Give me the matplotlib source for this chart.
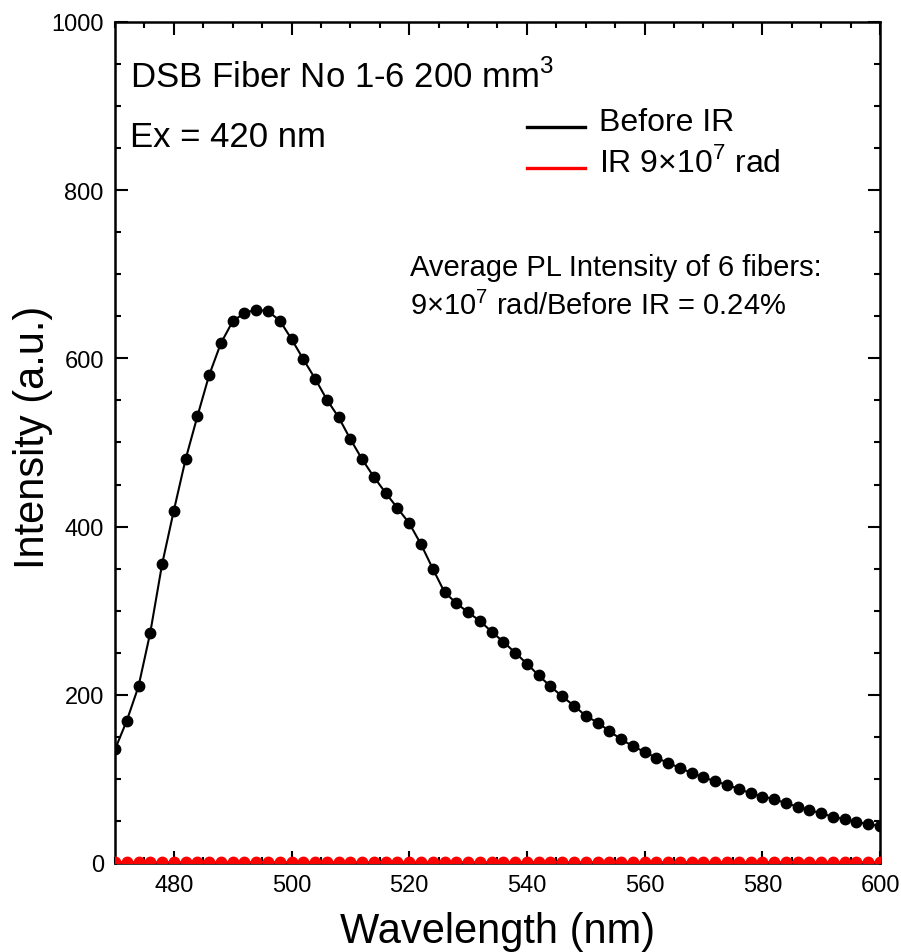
import matplotlib
matplotlib.use("Agg")
import matplotlib.pyplot as plt
from matplotlib.lines import Line2D
from matplotlib.ticker import MultipleLocator

plt.rcParams['font.family'] = ['Liberation Sans', 'DejaVu Sans']
plt.rcParams['mathtext.fontset'] = 'custom'
plt.rcParams['mathtext.rm'] = 'Liberation Sans'

wavelength = list(range(470, 601, 2))
before_ir = [135, 169, 210, 274, 355, 419, 480, 531, 580, 618,
             644, 654, 658, 656, 645, 623, 599, 576, 551, 530,
             504, 480, 459, 440, 422, 404, 379, 350, 322, 309,
             298, 288, 275, 263, 250, 237, 223, 210, 198, 187,
             175, 167, 157, 147, 139, 132, 125, 119, 113, 107,
             102, 97, 93, 88, 83, 79, 76, 71, 67, 63,
             59, 55, 52, 49, 46, 44]
ir_9e7 = [1.2] * len(wavelength)
legend_labels = ['Before IR', r'IR 9$\times$10$^7$ rad']
legend_colors = ['black', 'red']

fig = plt.figure(figsize=(9.01, 9.53), dpi=100)
ax = fig.add_axes([0.1276, 0.0934, 0.8491, 0.8825])

ax.plot(wavelength, before_ir, color='black', lw=1.5, marker='o', ms=7.5, zorder=3)
ax.plot(wavelength, ir_9e7, color='red', lw=1.5, marker='o', ms=7.5, zorder=3)

ax.set_xlim(470, 600)
ax.set_ylim(0, 1000)
ax.xaxis.set_major_locator(MultipleLocator(20))
ax.xaxis.set_minor_locator(MultipleLocator(5))
ax.yaxis.set_major_locator(MultipleLocator(200))
ax.yaxis.set_minor_locator(MultipleLocator(50))
ax.tick_params(which='both', direction='in', top=True, right=True, width=1.5, labelsize=17)
ax.tick_params(which='major', length=9)
ax.tick_params(which='minor', length=4.5)
ax.tick_params(axis='x', pad=8)
ax.tick_params(axis='y', pad=8)
for s in ax.spines.values():
    s.set_linewidth(1.8)

ax.set_xlabel('Wavelength (nm)', fontsize=30, labelpad=11)
ax.set_ylabel('Intensity (a.u.)', fontsize=30)
ax.yaxis.set_label_coords(-0.081, 0.507)

ax.text(0.02, 0.9227, r'DSB Fiber No 1-6 200 mm$^3$', transform=ax.transAxes, fontsize=25, va='baseline')
ax.text(0.02, 0.8526, 'Ex = 420 nm', transform=ax.transAxes, fontsize=25, va='baseline')
ax.text(0.3856, 0.6992, 'Average PL Intensity of 6 fibers:', transform=ax.transAxes, fontsize=21, va='baseline')
ax.text(0.3856, 0.6528, r'9$\times$10$^7$ rad/Before IR = 0.24%', transform=ax.transAxes, fontsize=21, va='baseline')

leg_y = [0.8716, 0.8228]
for lab, col, yy in zip(legend_labels, legend_colors, leg_y):
    ax.add_line(Line2D([0.538, 0.614], [yy + 0.004, yy + 0.004], color=col, lw=2.4, transform=ax.transAxes))
    ax.text(0.633, yy, lab, transform=ax.transAxes, fontsize=23, va='baseline')

fig.savefig('out.png', dpi=100)
